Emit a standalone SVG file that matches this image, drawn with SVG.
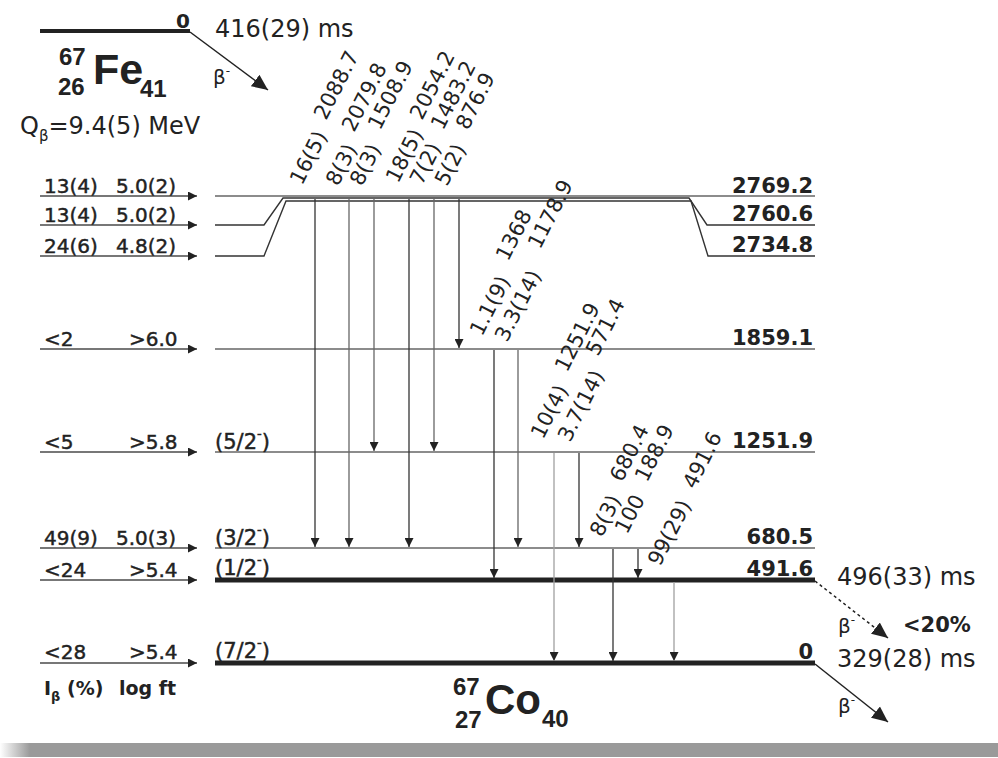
<svg xmlns="http://www.w3.org/2000/svg" width="998" height="758" viewBox="0 0 998 758">
<style>
.t{font-family:"DejaVu Sans",sans-serif;fill:#222}
.n{font-family:"Liberation Sans",Arial,sans-serif;font-weight:bold;fill:#222}
.lbl{font-size:20px;stroke:#222;stroke-width:0.45}
.en{font-size:21px;font-weight:bold;text-anchor:end}
.gl{font-size:21px}
.big{font-size:24px}
.lvl{stroke:#8c8c8c;stroke-width:2;fill:none}
.lvd{stroke:#333;stroke-width:1.4;fill:none}
.lvk{stroke:#222;stroke-width:5}
.feed{stroke:#777;stroke-width:1.8;marker-end:url(#ah)}
.g{stroke:#333;stroke-width:1.3;marker-end:url(#ah)}
.gm{stroke:#666}
.gg{stroke:#a0a0a0}
.beta{stroke:#222;stroke-width:1.5;marker-end:url(#bh)}
</style>
<defs>
<marker id="ah" markerUnits="userSpaceOnUse" markerWidth="9" markerHeight="9" viewBox="0 0 10 10" refX="10" refY="5" orient="auto"><path d="M0,0L10,5L0,10z" fill="#222"/></marker>
<marker id="bh" markerUnits="userSpaceOnUse" markerWidth="16" markerHeight="16" viewBox="0 0 10 10" refX="10" refY="5" orient="auto"><path d="M0,0.5L10,5L0,9.5z" fill="#222"/></marker>
<linearGradient id="sh" x1="0" x2="1" y1="0" y2="0"><stop offset="0" stop-color="#fff"/><stop offset="0.03" stop-color="#9a9a9a"/><stop offset="1" stop-color="#9a9a9a"/></linearGradient>
</defs>
<rect x="0" y="0" width="998" height="758" fill="#fff"/>
<rect x="0" y="743" width="998" height="14" fill="url(#sh)"/>

<g id="parent">
<line x1="40" y1="31" x2="190" y2="31" stroke="#222" stroke-width="4"/>
<text class="t" x="190" y="28" font-size="20" font-weight="bold" text-anchor="end">0</text>
<text class="n" x="59" y="65" font-size="24">67</text>
<text class="n" x="58" y="95" font-size="24">26</text>
<text class="n" x="93" y="84" font-size="43">Fe</text>
<text class="n" x="140" y="97" font-size="24">41</text>
<text class="t" x="215" y="37" font-size="24">416(29) ms</text>
<text class="t" x="20" y="134" font-size="24">Q<tspan font-size="15" dy="7">β</tspan><tspan dy="-7">=9.4(5) MeV</tspan></text>
<line class="beta" x1="190" y1="32" x2="268" y2="90"/>
<text class="t" x="213" y="84" font-size="20">β<tspan font-size="12" dy="-9">-</tspan></text>
</g>

<g id="levels">
<line class="lvl" x1="215" y1="196" x2="815" y2="196"/>
<path class="lvd" d="M215,225H264L283,198H689L707,225H815"/>
<path class="lvd" d="M215,256H264L286,201H691L708,256H815"/>
<line class="lvl" x1="215" y1="349" x2="815" y2="349"/>
<line class="lvl" x1="215" y1="452" x2="815" y2="452"/>
<line class="lvl" x1="215" y1="548" x2="815" y2="548"/>
<line class="lvk" x1="215" y1="580" x2="815" y2="580"/>
<line class="lvk" x1="215" y1="663" x2="815" y2="663"/>
</g>

<g id="energies" class="t en">
<text x="813" y="193">2769.2</text>
<text x="813" y="221">2760.6</text>
<text x="813" y="252">2734.8</text>
<text x="813" y="345">1859.1</text>
<text x="813" y="448">1251.9</text>
<text x="813" y="544">680.5</text>
<text x="813" y="576">491.6</text>
<text x="813" y="659">0</text>
</g>

<g id="spins" class="t" font-size="21" stroke="#222" stroke-width="0.45">
<text x="215" y="449">(5/2<tspan font-size="13" dy="-11">-</tspan><tspan dy="11">)</tspan></text>
<text x="215" y="545">(3/2<tspan font-size="13" dy="-11">-</tspan><tspan dy="11">)</tspan></text>
<text x="215" y="575">(1/2<tspan font-size="13" dy="-11">-</tspan><tspan dy="11">)</tspan></text>
<text x="215" y="658">(7/2<tspan font-size="13" dy="-11">-</tspan><tspan dy="11">)</tspan></text>
</g>

<g id="feeding">
<line class="feed" x1="40" y1="196" x2="197" y2="196"/>
<line class="feed" x1="40" y1="225" x2="197" y2="225"/>
<line class="feed" x1="40" y1="256" x2="197" y2="256"/>
<line class="feed" x1="40" y1="349" x2="197" y2="349"/>
<line class="feed" x1="40" y1="452" x2="197" y2="452"/>
<line class="feed" x1="40" y1="548" x2="197" y2="548"/>
<line class="feed" x1="40" y1="580" x2="197" y2="580"/>
<line class="feed" x1="40" y1="663" x2="197" y2="663"/>
<g class="t lbl">
<text x="44" y="193">13(4)</text><text x="116" y="193">5.0(2)</text>
<text x="44" y="222">13(4)</text><text x="116" y="222">5.0(2)</text>
<text x="44" y="253">24(6)</text><text x="116" y="253">4.8(2)</text>
<text x="44" y="346">&lt;2</text><text x="129" y="346">&gt;6.0</text>
<text x="44" y="449">&lt;5</text><text x="129" y="449">&gt;5.8</text>
<text x="44" y="545">49(9)</text><text x="116" y="545">5.0(3)</text>
<text x="44" y="577">&lt;24</text><text x="129" y="577">&gt;5.4</text>
<text x="44" y="659">&lt;28</text><text x="129" y="659">&gt;5.4</text>
<text x="44" y="695" font-weight="bold" font-size="19" stroke-width="0">I<tspan font-size="13" dy="6">β</tspan><tspan dy="-6"> (%)</tspan></text><text x="119" y="695" font-weight="bold" font-size="19" stroke-width="0">log ft</text>
</g>
</g>

<g id="transitions">
<line class="g" x1="315" y1="199" x2="315" y2="547"/>
<line class="g gm" x1="349" y1="199" x2="349" y2="547"/>
<line class="g gm" x1="374" y1="199" x2="374" y2="451"/>
<line class="g" x1="409" y1="199" x2="409" y2="547"/>
<line class="g gm" x1="434" y1="199" x2="434" y2="451"/>
<line class="g" x1="459" y1="199" x2="459" y2="348"/>
<line class="g" x1="494" y1="350" x2="494" y2="578"/>
<line class="g gm" x1="518" y1="350" x2="518" y2="547"/>
<line class="g gg" x1="554" y1="453" x2="554" y2="661"/>
<line class="g" x1="579" y1="453" x2="579" y2="547"/>
<line class="g" x1="613" y1="549" x2="613" y2="661"/>
<line class="g" x1="638" y1="549" x2="638" y2="578"/>
<line class="g gg" x1="674" y1="582" x2="674" y2="661"/>
</g>

<g id="gamma-labels" class="t gl">
<text transform="translate(302,186) rotate(-63)">16(5)</text>
<text transform="translate(326,121) rotate(-63)">2088.7</text>
<text transform="translate(338,187) rotate(-63)">8(3)</text>
<text transform="translate(354,133) rotate(-63)">2079.8</text>
<text transform="translate(362,187) rotate(-63)">8(3)</text>
<text transform="translate(380,131) rotate(-63)">1508.9</text>
<text transform="translate(398,184) rotate(-63)">18(5)</text>
<text transform="translate(422,121) rotate(-63)">2054.2</text>
<text transform="translate(422,186) rotate(-63)">7(2)</text>
<text transform="translate(443,131) rotate(-63)">1483.2</text>
<text transform="translate(447,187) rotate(-63)">5(2)</text>
<text transform="translate(468,131) rotate(-63)">876.9</text>
<text transform="translate(482,337) rotate(-63)">1.1(9)</text>
<text transform="translate(508,262) rotate(-63)">1368</text>
<text transform="translate(507,343) rotate(-63)">3.3(14)</text>
<text transform="translate(540,250) rotate(-63)">1178.9</text>
<text transform="translate(543,440) rotate(-63)">10(4)</text>
<text transform="translate(567,373) rotate(-63)">1251.9</text>
<text transform="translate(570,443) rotate(-63)">3.7(14)</text>
<text transform="translate(598,357) rotate(-63)">571.4</text>
<text transform="translate(602,538) rotate(-63)">8(3)</text>
<text transform="translate(622,483) rotate(-63)">680.4</text>
<text transform="translate(627,535) rotate(-63)">100</text>
<text transform="translate(647,483) rotate(-63)">188.9</text>
<text transform="translate(660,567) rotate(-63)">99(29)</text>
<text transform="translate(695,490) rotate(-63)">491.6</text>
</g>

<g id="daughter">
<text class="n" x="453" y="695" font-size="24">67</text>
<text class="n" x="455" y="728" font-size="24">27</text>
<text class="n" x="485" y="714" font-size="42">Co</text>
<text class="n" x="542" y="727" font-size="24">40</text>
<text class="t big" x="837" y="585">496(33) ms</text>
<line class="beta" x1="815" y1="581" x2="888" y2="638" stroke-dasharray="3 3"/>
<text class="t" x="838" y="633" font-size="20">β<tspan font-size="12" dy="-9">-</tspan></text>
<text class="t" x="903" y="632" font-size="21" font-weight="bold">&lt;20%</text>
<text class="t big" x="837" y="667">329(28) ms</text>
<line class="beta" x1="815" y1="664" x2="888" y2="722"/>
<text class="t" x="838" y="713" font-size="20">β<tspan font-size="12" dy="-9">-</tspan></text>
</g>
</svg>
